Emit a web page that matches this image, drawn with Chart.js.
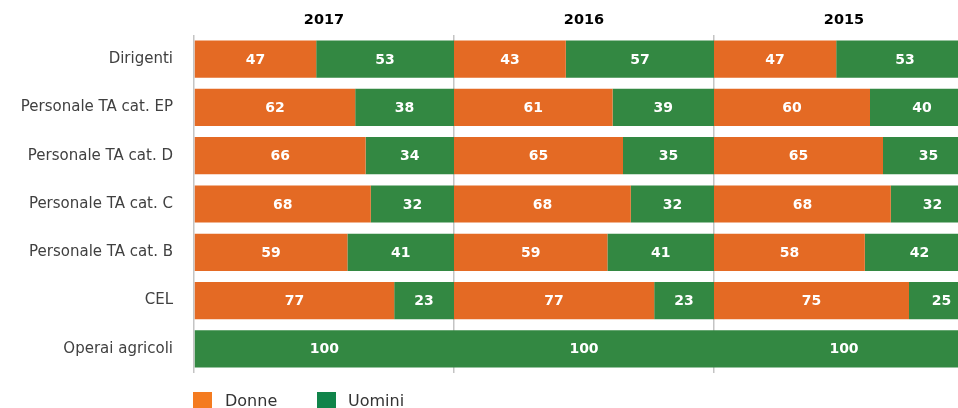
<!DOCTYPE html>
<html>
<head>
<meta charset="utf-8">
<script src="https://cdn.jsdelivr.net/npm/chart.js@4/dist/chart.umd.min.js"></script>
<style>
  html, body { margin: 0; padding: 0; background: #fff; }
  #wrap { position: relative; width: 958px; height: 408px; overflow: hidden; }
  #box { position: absolute; left: 0; top: 0; width: 980px; height: 395px; }
  .leg { position: absolute; top: 392px; width: 19px; height: 19px; }
  .legtxt { position: absolute; top: 391px; font: 16px "DejaVu Sans", sans-serif; color: #333; }
</style>
</head>
<body>
<div id="wrap">
  <div id="box"><canvas id="chart"></canvas></div>
  <div class="leg" style="left:193px;background:#F47B20"></div>
  <div class="legtxt" style="left:225px">Donne</div>
  <div class="leg" style="left:317px;background:#10844A"></div>
  <div class="legtxt" style="left:348px">Uomini</div>
</div>
<script>
const categories = ['Dirigenti', 'Personale TA cat. EP', 'Personale TA cat. D', 'Personale TA cat. C', 'Personale TA cat. B', 'CEL', 'Operai agricoli'];
const years = ['2017', '2016', '2015'];
const donne2017 = [47, 62, 66, 68, 59, 77, 0];
const uomini2017 = [53, 38, 34, 32, 41, 23, 100];
const donne2016 = [43, 61, 65, 68, 59, 77, 0];
const uomini2016 = [57, 39, 35, 32, 41, 23, 100];
const donne2015 = [47, 60, 65, 68, 58, 75, 0];
const uomini2015 = [53, 40, 35, 32, 42, 25, 100];

const orange = '#E46A24';
const green = '#338842';

function ds(label, data, color) {
    return { label: label, data: data, backgroundColor: color, stack: 's', barPercentage: 0.77, categoryPercentage: 1 };
}

const labelPlugin = {
    id: 'labels',
    afterDatasetsDraw(chart) {
        const ctx = chart.ctx;
        ctx.save();
        ctx.font = 'bold 14px "DejaVu Sans", sans-serif';
        ctx.fillStyle = '#fff';
        ctx.textAlign = 'center';
        ctx.textBaseline = 'middle';
        chart.data.datasets.forEach((d, i) => {
            chart.getDatasetMeta(i).data.forEach((bar, j) => {
                if (!d.data[j]) return;
                const p = bar.getCenterPoint();
                ctx.fillText(d.data[j], p.x, p.y + 1);
            });
        });
        ctx.restore();
    },
    afterDraw(chart) {
        const ctx = chart.ctx;
        const x = chart.scales.x;
        ctx.save();
        ctx.font = 'bold 14.5px "DejaVu Sans", sans-serif';
        ctx.fillStyle = '#000';
        ctx.textAlign = 'center';
        ctx.textBaseline = 'middle';
        years.forEach((y, i) => ctx.fillText(y, x.getPixelForValue(50 + i * 100), 20));
        ctx.restore();
    }
};

new Chart(document.getElementById('chart'), {
    type: 'bar',
    data: {
        labels: categories,
        datasets: [
            ds('Donne 2017', donne2017, orange),
            ds('Uomini 2017', uomini2017, green),
            ds('Donne 2016', donne2016, orange),
            ds('Uomini 2016', uomini2016, green),
            ds('Donne 2015', donne2015, orange),
            ds('Uomini 2015', uomini2015, green)
        ]
    },
    options: {
        indexAxis: 'y',
        responsive: true,
        maintainAspectRatio: false,
        animation: false,
        layout: { padding: { top: 35, bottom: 7, left: 0, right: 6 } },
        plugins: { legend: { display: false }, tooltip: { enabled: false } },
        scales: {
            x: {
                stacked: true,
                min: 0,
                max: 300,
                ticks: { display: false, stepSize: 100 },
                grid: { color: '#c4c4c4', lineWidth: 1.5, drawTicks: false },
                border: { display: false },
                afterFit(s) { s.height = 0; }
            },
            y: {
                stacked: true,
                grid: { display: false },
                border: { display: false },
                ticks: { color: '#404040', font: { family: 'DejaVu Sans', size: 15 }, padding: 13 },
                afterFit(s) { s.width = 194; }
            }
        }
    },
    plugins: [labelPlugin]
});
</script>
</body>
</html>
